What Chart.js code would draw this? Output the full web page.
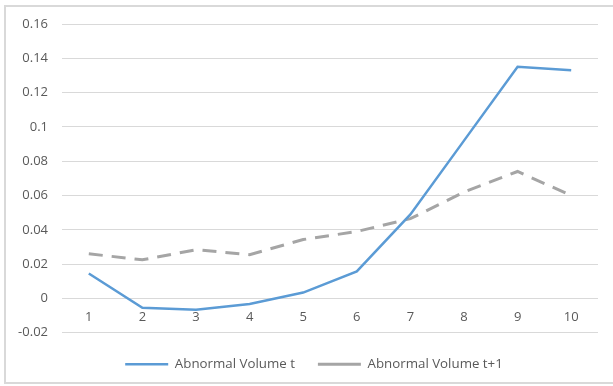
<!DOCTYPE html>
<html>
<head>
<meta charset="utf-8">
<script src="https://cdn.jsdelivr.net/npm/chart.js@4.4.1/dist/chart.umd.min.js"></script>
<style>
  html, body { margin: 0; padding: 0; background: #ffffff; }
  #wrap { position: relative; width: 613px; height: 386px; }
</style>
</head>
<body>
<div id="wrap"><canvas id="chart" width="613" height="386"></canvas></div>
<script>
// Event-window deciles and abnormal trading volume
const deciles = ['1', '2', '3', '4', '5', '6', '7', '8', '9', '10'];
const abnormalVolumeT = [0.0145, -0.0055, -0.0066, -0.0033, 0.0034, 0.0157, 0.049, 0.092, 0.135, 0.133];
const abnormalVolumeT1 = [0.026, 0.0225, 0.0284, 0.0255, 0.0343, 0.039, 0.0465, 0.062, 0.074, 0.060];
const yTickMin = -0.02;
const yTickMax = 0.16;
const yTickStep = 0.02;

const textColor = '#595959';
const gridColor = '#d9d9d9';
const fontFamily = "'Open Sans', 'Liberation Sans', sans-serif";

// Light frame around the whole chart
const framePlugin = {
  id: 'frame',
  beforeDraw(chart) {
    const ctx = chart.ctx;
    ctx.save();
    ctx.fillStyle = '#ffffff';
    ctx.fillRect(0, 0, chart.width, chart.height);
    ctx.strokeStyle = '#d9d9d9';
    ctx.lineWidth = 2;
    ctx.strokeRect(5, 6, chart.width + 10, chart.height - 9);
    ctx.restore();
  }
};

// Nudge the legend block slightly right and down, below the plot
const legendNudge = {
  id: 'legendNudge',
  afterLayout(chart) {
    const lg = chart.legend;
    if (!lg) return;
    lg.left += 10; lg.right += 10;
    lg.top += 2; lg.bottom += 2;
  }
};

new Chart(document.getElementById('chart'), {
  type: 'line',
  data: {
    labels: deciles,
    datasets: [
      {
        label: 'Abnormal Volume t',
        data: abnormalVolumeT,
        borderColor: '#5b9bd5',
        backgroundColor: '#5b9bd5',
        borderWidth: 2.5,
        pointRadius: 0,
        tension: 0,
        fill: false
      },
      {
        label: 'Abnormal Volume t+1',
        data: abnormalVolumeT1,
        borderColor: '#a5a5a5',
        backgroundColor: '#a5a5a5',
        borderWidth: 3,
        borderDash: [14, 9],
        pointRadius: 0,
        tension: 0,
        fill: false
      }
    ]
  },
  options: {
    responsive: false,
    animation: false,
    devicePixelRatio: 1,
    layout: { padding: { left: 10, right: 15, top: 24, bottom: 7 } },
    plugins: {
      tooltip: { enabled: false },
      legend: {
        position: 'bottom',
        labels: {
          color: textColor,
          font: { family: fontFamily, size: 13.3 },
          usePointStyle: true,
          pointStyleWidth: 43,
          pointStyle: 'line',
          boxHeight: 3,
          padding: 23
        }
      }
    },
    scales: {
      x: {
        type: 'category',
        position: { y: 0 },
        offset: true,
        grid: { display: false },
        border: { display: false },
        ticks: {
          color: textColor,
          font: { family: fontFamily, size: 13 },
          padding: 3,
          maxRotation: 0
        }
      },
      y: {
        min: yTickMin,
        max: yTickMax,
        grid: { color: gridColor, lineWidth: 1, drawTicks: false },
        border: { display: false },
        afterFit(scale) { scale.width = 52; },
        ticks: {
          stepSize: yTickStep,
          color: textColor,
          font: { family: fontFamily, size: 13 },
          padding: 14,
          callback: (v) => String(Number(v.toFixed(2)))
        }
      }
    }
  },
  plugins: [framePlugin, legendNudge]
});
</script>
</body>
</html>
